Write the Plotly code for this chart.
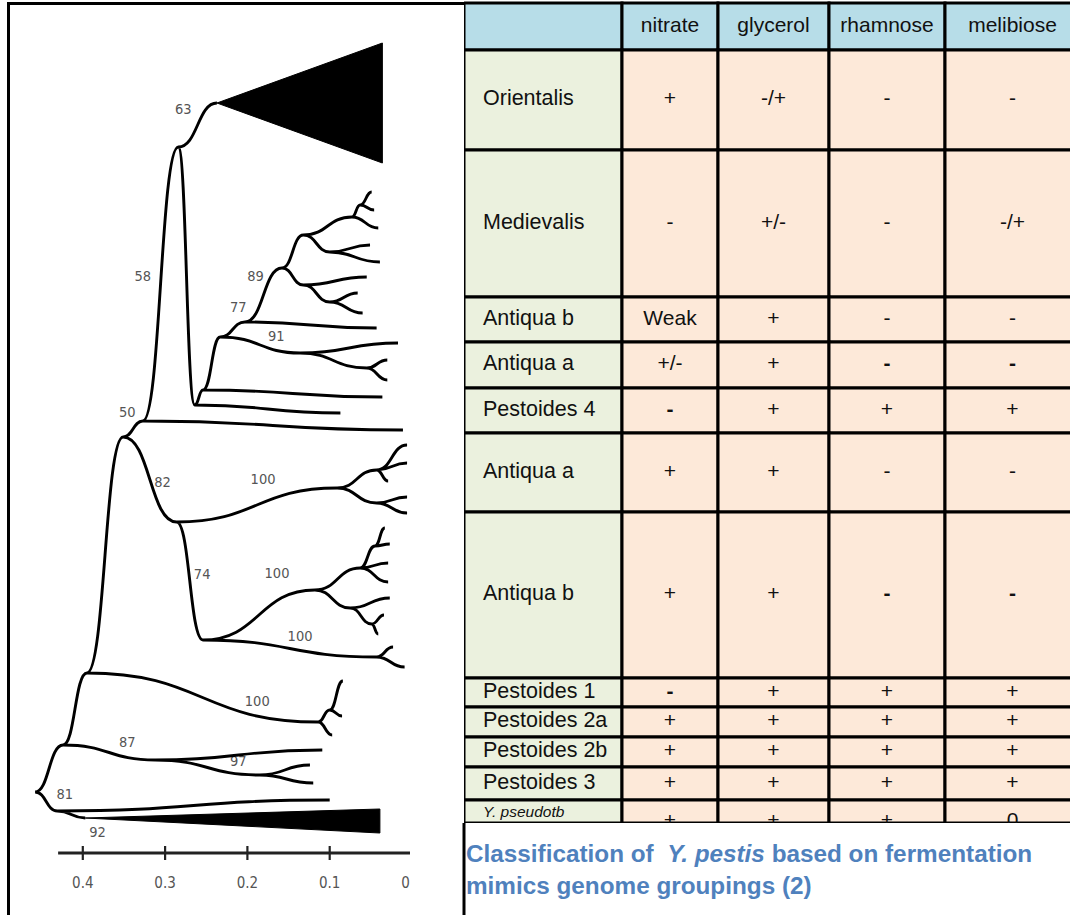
import plotly.graph_objects as go

# ---------------- tree data (distance from tips, vertical position) ----------------
node_names = ["root", "L", "M", "N", "O", "O_leaf", "P", "P_a", "P_b", "M_leaf", "M_wedge",
              "Q", "Q1", "Q1a", "Q1b", "Q_leaf", "K", "R", "S", "S1", "S1a", "S1b", "S1c",
              "S2", "S2a", "S2b", "T", "U", "U1", "U1x", "U1x_a", "U1x_b", "U1_b", "U1_c",
              "U2", "U2_leaf", "U2x", "U2x_a", "U2x_b", "V", "V_a", "V_b",
              "N50", "N50_leaf", "X", "Ori", "B", "B_leaf", "B2", "B2_leaf", "C", "F", "F_leaf",
              "G", "D", "D_leaf", "E", "E_a", "E_b", "H", "I", "I1", "I1_a", "I1_b", "I_c",
              "J", "J_a", "J_b", "G2", "G2_leaf", "G3", "G3_a", "G3_b"]
node_parent = [None, "root", "root", "L", "L", "O", "O", "P", "P", "M", "M",
               "N", "Q", "Q1", "Q1", "Q", "N", "K", "R", "S", "S1", "S1", "S1",
               "S", "S2", "S2", "R", "T", "U", "U1", "U1x", "U1x", "U1", "U1",
               "U", "U2", "U2", "U2x", "U2x", "T", "V", "V",
               "K", "N50", "N50", "X", "X", "B", "B", "B2", "B2", "C", "F",
               "F", "C", "D", "D", "E", "E", "G", "H", "I", "I1", "I1", "I",
               "H", "J", "J", "G", "G2", "G2", "G3", "G3"]
node_dist = [0.458, 0.424, 0.431, 0.395, 0.312, 0.109, 0.185, 0.124, 0.120, 0.100, 0.397,
             0.114, 0.100, 0.084, 0.085, 0.097, 0.351, 0.286, 0.091, 0.043, 0.006, 0.006, 0.029,
             0.043, 0.006, 0.006, 0.254, 0.118, 0.063, 0.045, 0.033, 0.027, 0.029, 0.029,
             0.075, 0.027, 0.049, 0.034, 0.041, 0.043, 0.023, 0.009,
             0.327, 0.011, 0.284, 0.237, 0.264, 0.087, 0.254, 0.036, 0.233, 0.203, 0.043,
             0.158, 0.136, 0.017, 0.055, 0.030, 0.030, 0.132, 0.073, 0.063, 0.049, 0.046, 0.041,
             0.100, 0.051, 0.039, 0.132, 0.055, 0.100, 0.066, 0.060]
node_pos = [792, 745, 811, 673, 760, 750, 775, 765, 783, 800, 818,
            722, 710, 681, 716, 735, 437, 522, 488, 470, 445, 463, 481,
            503, 497, 513, 640, 590, 568, 546, 528, 544, 563, 582,
            608, 598, 624, 615, 634, 657, 647, 667,
            421, 430, 147, 103, 405, 413, 390, 397, 337, 322, 328,
            268, 353, 343, 368, 360, 380, 235, 217, 205, 192, 210, 228,
            252, 245, 262, 285, 277, 302, 293, 313]

# collapsed clades (black triangles)
clade_apex = ["Ori", "M_wedge"]
clade_tip_dist = [0.036, 0.039]
clade_top = [43, 809]
clade_bottom = [163, 833]

# bootstrap support labels
support_text = ["63", "58", "89", "77", "91", "50", "82", "100", "74", "100", "100", "100",
                "87", "97", "81", "92"]
support_dist = [0.278, 0.327, 0.190, 0.211, 0.165, 0.346, 0.303, 0.181, 0.255, 0.164, 0.136,
                0.188, 0.346, 0.211, 0.422, 0.382]
support_pos = [110, 277, 277, 308, 337, 413, 483, 480, 575, 574, 637, 702, 743, 762, 795, 833]

# scale bar
scale_ticks = [0.4, 0.3, 0.2, 0.1, 0.0]
scale_labels = ["0.4", "0.3", "0.2", "0.1", "0.0"]
scale_title = "Distance"

# ---------------- table data ----------------
columns = ["nitrate", "glycerol", "rhamnose", "melibiose"]
groups = ["Orientalis", "Medievalis", "Antiqua b", "Antiqua a", "Pestoides 4", "Antiqua a",
          "Antiqua b", "Pestoides 1", "Pestoides 2a", "Pestoides 2b", "Pestoides 3", "Y. pseudotb"]
nitrate = ["+", "-", "Weak", "+/-", "-", "+", "+", "-", "+", "+", "+", "+"]
glycerol = ["-/+", "+/-", "+", "+", "+", "+", "+", "+", "+", "+", "+", "+"]
rhamnose = ["-", "-", "-", "-", "+", "-", "-", "+", "+", "+", "+", "+"]
melibiose = ["-", "-/+", "-", "-", "+", "-", "-", "+", "+", "+", "+", "0"]
caption = "Classification of  <i>Y. pestis</i> based on fermentation<br>mimics genome groupings (2)"

# ---------------- layout constants (pixels) ----------------
W, H = 1070, 915
col_edges = [464, 622, 718, 829, 945, 1080]
row_edges = [3, 50, 150, 297, 342, 388, 433, 512, 678, 707, 737, 767, 800, 823]
bold_cells = {(3, 2), (3, 3), (4, 0), (6, 2), (6, 3), (7, 0)}
HEADER_BG = "#b7dde8"
LABEL_BG = "#ebf1de"
VALUE_BG = "#fde9d9"
TXT_FONT = "Liberation Sans, Arial, sans-serif"
NARROW = "Liberation Sans Narrow, Arial Narrow, DejaVu Sans Condensed, sans-serif"

fig = go.Figure()

# ---------------- tree ----------------
idx = {n: i for i, n in enumerate(node_names)}
segs = []
for n, p in zip(node_names, node_parent):
    if p is None:
        continue
    i, j = idx[p], idx[n]
    x0, y0 = node_dist[i], node_pos[i]
    x1, y1 = node_dist[j], node_pos[j]
    xm = (x0 + x1) / 2
    segs.append(f"M{x0},{y0} C{xm},{y0} {xm},{y1} {x1},{y1}")
fig.add_shape(type="path", path=" ".join(segs), xref="x", yref="y",
              line=dict(color="black", width=2.9), layer="above")

for apex, tip, top, bot in zip(clade_apex, clade_tip_dist, clade_top, clade_bottom):
    i = idx[apex]
    fig.add_trace(go.Scatter(x=[node_dist[i], tip, tip, node_dist[i]],
                             y=[node_pos[i], top, bot, node_pos[i]],
                             mode="lines", fill="toself", fillcolor="black",
                             line=dict(color="black", width=1),
                             xaxis="x", yaxis="y", hoverinfo="skip"))

fig.add_trace(go.Scatter(x=support_dist, y=support_pos, text=support_text, mode="text",
                         textfont=dict(family=NARROW, size=14.5, color="#555"),
                         xaxis="x", yaxis="y", hoverinfo="skip", cliponaxis=True))

# scale bar
bar_y = 853
fig.add_trace(go.Scatter(x=[0.430, -0.02], y=[bar_y, bar_y], mode="lines",
                         line=dict(color="#222", width=2.8), xaxis="x", yaxis="y",
                         hoverinfo="skip"))
tx, ty = [], []
for t in scale_ticks:
    tx += [t, t, None]
    ty += [bar_y - 7, bar_y + 7, None]
fig.add_trace(go.Scatter(x=tx, y=ty, mode="lines", line=dict(color="#222", width=2.2),
                         xaxis="x", yaxis="y", hoverinfo="skip"))
fig.add_trace(go.Scatter(x=scale_ticks, y=[884] * len(scale_ticks), text=scale_labels,
                         mode="text", textfont=dict(family=NARROW, size=15, color="#555"),
                         xaxis="x", yaxis="y", hoverinfo="skip", cliponaxis=True))
fig.add_trace(go.Scatter(x=[0.21], y=[922], text=[scale_title], mode="text",
                         textfont=dict(family=NARROW, size=14, color="#aaa"),
                         xaxis="x", yaxis="y", hoverinfo="skip", cliponaxis=True))

# ---------------- table ----------------
nrows = len(groups) + 1
ncols = len(columns) + 1
for r in range(nrows):
    for c in range(ncols):
        fill = HEADER_BG if r == 0 else (LABEL_BG if c == 0 else VALUE_BG)
        fig.add_shape(type="rect", xref="x2", yref="y2",
                      x0=col_edges[c], x1=col_edges[c + 1],
                      y0=row_edges[r], y1=row_edges[r + 1],
                      fillcolor=fill, line=dict(color="black", width=3), layer="below")

col_centers = [(col_edges[c] + col_edges[c + 1]) / 2 for c in range(ncols)]
row_centers = [(row_edges[r] + row_edges[r + 1]) / 2 for r in range(nrows)]

fig.add_trace(go.Scatter(x=col_centers[1:], y=[row_centers[0]] * len(columns), text=columns,
                         mode="text", textfont=dict(family=TXT_FONT, size=21, color="#111"),
                         xaxis="x2", yaxis="y2", hoverinfo="skip", cliponaxis=True))

label_text = [g if k < len(groups) - 1 else f"<i>{g}</i>" for k, g in enumerate(groups)]
label_size = [21.5] * (len(groups) - 1) + [15.5]
label_y = list(row_centers[1:])
label_y[-1] = label_y[-1] + 2
fig.add_trace(go.Scatter(x=[col_edges[0] + 19] * len(groups), y=label_y, text=label_text,
                         mode="text", textposition="middle right",
                         textfont=dict(family=TXT_FONT, size=label_size, color="#111"),
                         xaxis="x2", yaxis="y2", hoverinfo="skip", cliponaxis=True))

value_cols = [nitrate, glycerol, rhamnose, melibiose]
for c, vals in enumerate(value_cols):
    ys = list(row_centers[1:])
    ys[-1] = ys[-1] + 10.5  # last row is cut off by the slide edge
    txt = [f"<b>{v}</b>" if (k, c) in bold_cells else v for k, v in enumerate(vals)]
    fig.add_trace(go.Scatter(x=[col_centers[c + 1]] * len(vals), y=ys, text=txt, mode="text",
                             textfont=dict(family=TXT_FONT, size=21, color="#111"),
                             xaxis="x2", yaxis="y2", hoverinfo="skip", cliponaxis=True))

# frame lines
fig.add_shape(type="line", xref="paper", yref="paper", x0=8.5 / W, x1=8.5 / W, y0=0, y1=1 - 3 / H,
              line=dict(color="black", width=3))
fig.add_shape(type="line", xref="paper", yref="paper", x0=7 / W, x1=464 / W, y0=1 - 3.5 / H,
              y1=1 - 3.5 / H, line=dict(color="black", width=3))
fig.add_shape(type="line", xref="paper", yref="paper", x0=464 / W, x1=464 / W, y0=0,
              y1=1 - 823 / H, line=dict(color="black", width=3))

fig.add_annotation(xref="paper", yref="paper", x=464 / W, y=1 - 838 / H, xanchor="left",
                   yanchor="top", align="left", showarrow=False,
                   text=f"<b>{caption}</b>",
                   font=dict(family=TXT_FONT, size=24.3, color="#4f81bd"))

fig.update_layout(
    width=W, height=H, margin=dict(l=0, r=0, t=0, b=0),
    paper_bgcolor="white", plot_bgcolor="rgba(0,0,0,0)", showlegend=False,
    xaxis=dict(domain=[0, 410 / W], range=[412 / 823, 2 / 823], visible=False, fixedrange=True),
    yaxis=dict(domain=[0, 1], range=[H, 0], visible=False, fixedrange=True),
    xaxis2=dict(domain=[464 / W, 1], range=[464, W], visible=False, anchor="y2", fixedrange=True),
    yaxis2=dict(domain=[1 - 823 / H, 1], range=[823, 0], visible=False, anchor="x2", fixedrange=True),
)

fig.write_html("out.html", config={"displayModeBar": False},
               post_script="document.body.style.margin='0px';document.body.style.overflow='hidden';")
